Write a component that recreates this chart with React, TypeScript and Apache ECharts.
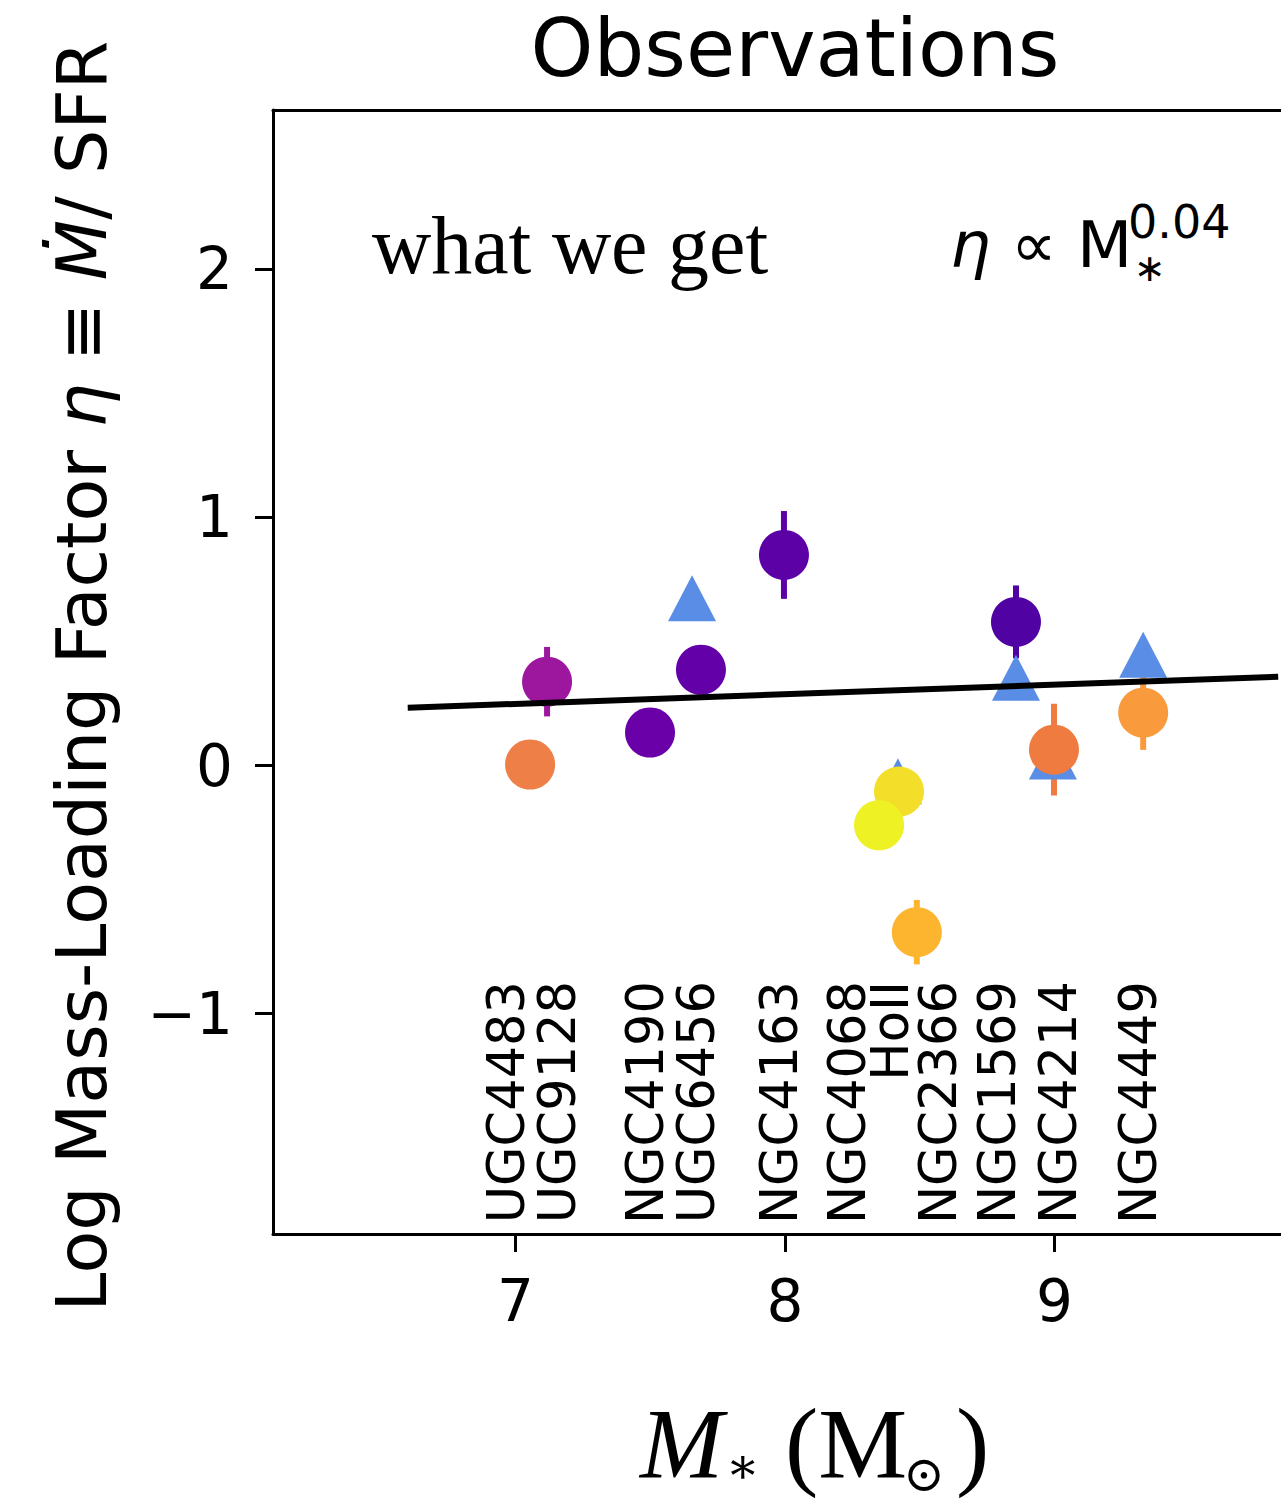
import React, { useEffect, useRef } from "react";
import * as echarts from "echarts";

// ---- data ----
const galaxyNames = ["UGC4483", "UGC9128", "NGC4190", "UGC6456", "NGC4163", "NGC4068", "HoII", "NGC2366", "NGC1569", "NGC4214", "NGC4449"];
const galaxyLabelMass = [6.968, 7.154, 7.484, 7.673, 7.981, 8.23, 8.393, 8.568, 8.787, 9.013, 9.31];

const circleMass = [7.054, 7.117, 7.499, 7.688, 7.996, 8.423, 8.349, 8.489, 8.857, 8.998, 9.329];
const circleEta = [0.004, 0.338, 0.133, 0.386, 0.849, -0.105, -0.241, -0.672, 0.579, 0.064, 0.213];
const circleErr = [0, 0.14, 0, 0, 0.177, 0, 0, 0.13, 0.147, 0.185, 0.15];
const circleColors = ["#ee7f47", "#9c179e", "#6a00a8", "#6300a7", "#5c01a6", "#f3de2a", "#eef124", "#fdb42f", "#5002a2", "#ef7b41", "#f99b3c"];

const triangleMass = [7.655, 8.419, 8.857, 8.994, 9.329];
const triangleEta = [0.674, -0.064, 0.354, 0.036, 0.447];

const fitMass = [6.6, 9.83];
const fitEta = [0.233, 0.358];

const xTicks = [7, 8, 9];
const yTicks = [-1, 0, 1, 2];

const LABEL_TOP = -0.869;

const SANS = "DejaVu Sans";
const SERIF = "Liberation Serif";

export default function App() {
  const ref = useRef<HTMLDivElement>(null);
  useEffect(() => {
    if (!ref.current) return;
    const chart = echarts.init(ref.current, null, { renderer: "svg" });
    const axisLineStyle = { color: "#000", width: 3 };
    const option: any = {
      animation: false,
      backgroundColor: "#fff",
      grid: { left: 273, top: 110, width: 1051, height: 1124, containLabel: false },
      xAxis: [
        {
          type: "value",
          min: 6.1,
          max: 10,
          position: "bottom",
          axisLine: { show: true, onZero: false, lineStyle: axisLineStyle },
          axisTick: { show: true, length: 18, lineStyle: { color: "#000", width: 3 }, customValues: xTicks },
          axisLabel: { show: true, customValues: xTicks, fontSize: 58, fontFamily: SANS, color: "#000", margin: 38 },
          splitLine: { show: false },
        },
        {
          type: "value",
          min: 6.1,
          max: 10,
          position: "top",
          axisLine: { show: true, onZero: false, lineStyle: axisLineStyle },
          axisTick: { show: false },
          axisLabel: { show: false },
          splitLine: { show: false },
        },
      ],
      yAxis: [
        {
          type: "value",
          min: -1.889,
          max: 2.643,
          position: "left",
          axisLine: { show: true, onZero: false, lineStyle: axisLineStyle },
          axisTick: { show: true, length: 18, lineStyle: { color: "#000", width: 3 }, customValues: yTicks },
          axisLabel: {
            show: true,
            customValues: yTicks,
            fontSize: 58,
            fontFamily: SANS,
            color: "#000",
            margin: 40,
            formatter: (v: number) => String(v).replace("-", "\u2212"),
          },
          splitLine: { show: false },
        },
        {
          type: "value",
          min: -1.889,
          max: 2.643,
          position: "right",
          axisLine: { show: true, onZero: false, lineStyle: axisLineStyle },
          axisTick: { show: false },
          axisLabel: { show: false },
          splitLine: { show: false },
        },
      ],
      series: [
        {
          type: "custom",
          z: 1,
          renderItem: (params: any, api: any) => {
            const x = api.value(0);
            const y = api.value(1);
            const e = api.value(2);
            if (!e) return null;
            const top = api.coord([x, y + e]);
            const bot = api.coord([x, y - e]);
            return {
              type: "line",
              shape: { x1: top[0], y1: top[1], x2: bot[0], y2: bot[1] },
              style: { stroke: circleColors[params.dataIndex], lineWidth: 6 },
            };
          },
          encode: { x: 0, y: 1 },
          data: circleMass.map((m, i) => [m, circleEta[i], circleErr[i]]),
        },
        {
          type: "scatter",
          z: 2,
          symbol: "triangle",
          symbolSize: [48, 46],
          itemStyle: { color: "#5a8de6", opacity: 1 },
          data: triangleMass.map((m, i) => [m, triangleEta[i]]),
        },
        {
          type: "scatter",
          z: 3,
          symbol: "circle",
          symbolSize: 50,
          itemStyle: { color: (p: any) => circleColors[p.dataIndex], opacity: 1 },
          data: circleMass.map((m, i) => [m, circleEta[i]]),
        },
        {
          type: "line",
          z: 4,
          showSymbol: false,
          symbol: "none",
          lineStyle: { color: "#000", width: 6 },
          data: fitMass.map((m, i) => [m, fitEta[i]]),
        },
        {
          type: "custom",
          z: 5,
          renderItem: (params: any, api: any) => {
            const p = api.coord([api.value(0), api.value(1)]);
            return {
              type: "text",
              x: p[0],
              y: p[1],
              rotation: Math.PI / 2,
              style: {
                text: galaxyNames[params.dataIndex],
                fontSize: 51,
                fontFamily: SANS,
                fill: "#000",
                align: "right",
                verticalAlign: "middle",
              },
            };
          },
          encode: { x: 0, y: 1 },
          data: galaxyLabelMass.map((m) => [m, LABEL_TOP]),
        },
      ],
      graphic: [
        {
          type: "text",
          x: 795,
          y: 48,
          style: { text: "Observations", fontSize: 80, fontFamily: SANS, fill: "#000", align: "center", verticalAlign: "middle" },
        },
        {
          type: "text",
          x: 372,
          y: 245,
          style: { text: "what we get", fontSize: 82, fontFamily: SERIF, fill: "#000", align: "left", verticalAlign: "middle" },
        },
        {
          type: "text",
          x: 950,
          y: 245,
          style: {
            text: "{i|η} ∝ M",
            fontSize: 64,
            fontFamily: SANS,
            fill: "#000",
            align: "left",
            verticalAlign: "middle",
            rich: { i: { fontSize: 64, fontFamily: SANS, fontStyle: "italic", fill: "#000" } },
          },
        },
        {
          type: "text",
          x: 1128,
          y: 222,
          style: { text: "0.04", fontSize: 46, fontFamily: SANS, fill: "#000", align: "left", verticalAlign: "middle" },
        },
        {
          type: "text",
          x: 1134,
          y: 268,
          style: { text: "∗", fontSize: 38, fontFamily: SANS, fill: "#000", align: "left", verticalAlign: "middle" },
        },
        {
          type: "text",
          x: 82,
          y: 676,
          rotation: Math.PI / 2,
          style: {
            text: "Log Mass-Loading Factor {i|η} ≡ {i|Ṁ}/ SFR",
            fontSize: 70,
            fontFamily: SANS,
            fill: "#000",
            align: "center",
            verticalAlign: "middle",
            rich: { i: { fontSize: 70, fontFamily: SANS, fontStyle: "italic", fill: "#000" } },
          },
        },
        {
          type: "text",
          x: 640,
          y: 1443,
          style: { text: "M", fontSize: 100, fontFamily: SERIF, fontStyle: "italic", fill: "#000", align: "left", verticalAlign: "middle" },
        },
        {
          type: "text",
          x: 726,
          y: 1466,
          style: { text: "∗", fontSize: 50, fontFamily: "DejaVu Serif", fill: "#000", align: "left", verticalAlign: "middle" },
        },
        {
          type: "text",
          x: 785,
          y: 1443,
          style: { text: "(M", fontSize: 100, fontFamily: SERIF, fill: "#000", align: "left", verticalAlign: "middle" },
        },
        {
          type: "text",
          x: 903,
          y: 1474,
          style: { text: "⊙", fontSize: 50, fontFamily: "DejaVu Serif", fill: "#000", align: "left", verticalAlign: "middle" },
        },
        {
          type: "text",
          x: 956,
          y: 1443,
          style: { text: ")", fontSize: 100, fontFamily: SERIF, fill: "#000", align: "left", verticalAlign: "middle" },
        },
      ],
    };
    chart.setOption(option);
    return () => chart.dispose();
  }, []);
  return (
    <div style={{ position: "absolute", left: 0, top: 0, width: 1281, height: 1507, overflow: "hidden", background: "#fff" }}>
      <div ref={ref} style={{ position: "absolute", left: 0, top: 0, width: 1340, height: 1507 }} />
    </div>
  );
}
